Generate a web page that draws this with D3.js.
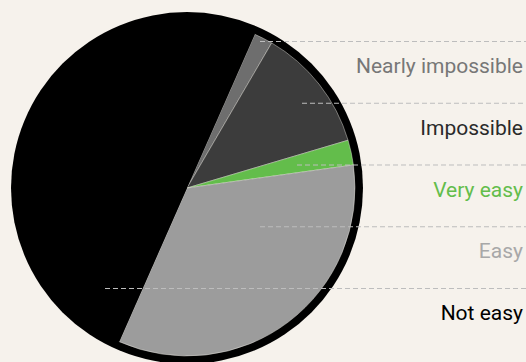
<!DOCTYPE html>
<meta charset="utf-8">
<script src="https://d3js.org/d3.v7.min.js"></script>
<style>
  body { margin: 0; background: #f6f2ec; }
  svg { display: block; }
  text { font-family: Roboto, "Noto Sans", sans-serif; font-size: 21px; }
</style>
<body>
<div id="chart"></div>
<script>
    // values (percent of answers)
    var categories = ["Nearly impossible", "Impossible", "Very easy", "Easy", "Not easy"];
    var values = [1.8, 12, 2.4, 33.8, 50];

    var width = 526, height = 362;
    var cx = 187, cy = 188, ringR = 176, sliceR = 168;

    var color = d3.scaleOrdinal()
            .domain(categories)
            .range(["#6e6e6e", "#3c3c3c", "#63bd4b", "#9c9c9c", "#000000"]);
    var labelColor = d3.scaleOrdinal()
            .domain(categories)
            .range(["#777777", "#2a2a2a", "#63bd4b", "#a8a8a8", "#000000"]);

    // rows of labels on the right
    var row = d3.scalePoint().domain(categories).range([41, 288]);
    // where each dashed leader starts
    var leaderStart = d3.scaleOrdinal().domain(categories).range([260, 302, 297, 260, 105]);

    var svg = d3.select("#chart").append("svg")
            .attr("width", width)
            .attr("height", height);

    var pie = d3.pie()
            .sort(null)
            .value(function(d) { return d.value; })
            .startAngle(23.8 * Math.PI / 180)
            .endAngle(23.8 * Math.PI / 180 + 2 * Math.PI);

    var data = categories.map(function(c, i) { return {name: c, value: values[i]}; });

    var arc = d3.arc().innerRadius(0).outerRadius(sliceR);

    var g = svg.append("g").attr("transform", "translate(" + cx + "," + cy + ")");

    // black rim behind the slices
    g.append("circle").attr("r", ringR).attr("fill", "#000");

    g.selectAll("path.slice")
            .data(pie(data))
            .enter().append("path")
            .attr("class", "slice")
            .attr("d", arc)
            .attr("fill", function(d) { return color(d.data.name); })
            .attr("stroke", function(d) { return d.data.name === "Not easy" ? "none" : "#f6f2ec"; })
            .attr("stroke-width", 0.6)
            .attr("stroke-opacity", 0.7);

    // dashed leaders
    svg.selectAll("line.leader")
            .data(categories)
            .enter().append("line")
            .attr("class", "leader")
            .attr("x1", function(d) { return leaderStart(d); })
            .attr("x2", width)
            .attr("y1", function(d) { return row(d) + 0.5; })
            .attr("y2", function(d) { return row(d) + 0.5; })
            .attr("stroke", "#bdbdbd")
            .attr("stroke-width", 1)
            .attr("stroke-dasharray", "5,3");

    svg.selectAll("text.label")
            .data(categories)
            .enter().append("text")
            .attr("class", "label")
            .attr("x", 523)
            .attr("y", function(d) { return row(d) + 32; })
            .attr("text-anchor", "end")
            .attr("fill", function(d) { return labelColor(d); })
            .text(function(d) { return d; });
</script>
</body>
